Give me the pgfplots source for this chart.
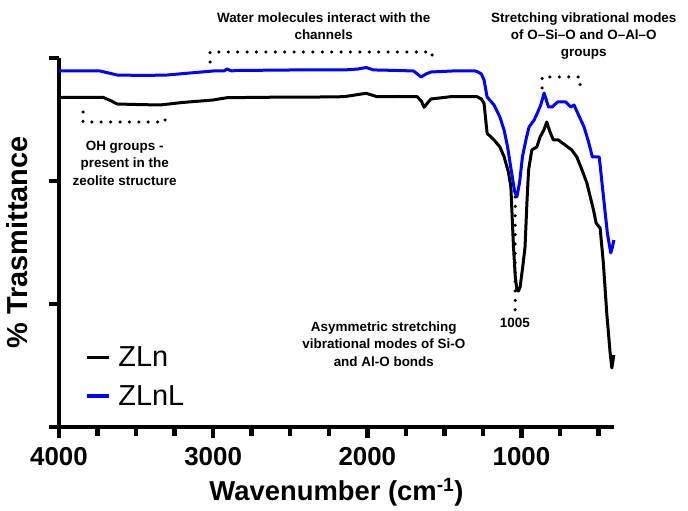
\documentclass[border=0pt]{standalone}
\usepackage{pgfplots}
\pgfplotsset{compat=1.18}
\usepackage{fontspec}
\setmainfont{Liberation Sans}
\pgfplotstableread{
w t
4000 329.7
3850 329.5
3715 329.7
3660 326
3624 323
3500 322.5
3345 322
3200 324.5
3001 327
2910 329.3
2600 329.8
2300 330
2151 330.3
2008 333.7
1937 330.3
1800 330.5
1677 330.3
1650 326
1632 319.7
1610 324
1587 328
1450 330.5
1288 330.3
1260 328
1243 323.7
1223 293.7
1178 287
1140 280
1113 270.3
1085 255
1069 240.3
1052 180.3
1040 150
1030 137
1020 136
1009 140
992 160
977 180
964 227
954 257
933 277
901 280
879 290
855 297
836 305
815 295
793 287
761 287
717 282
674 277
641 270
610 258
576 244
533 217
516 204
490 199
469 164
447 114
425 74
414 59
401 72
}\ZLn
\pgfplotstableread{
w t
4000 356
3850 356
3734 356
3650 353
3624 352
3450 351.5
3299 352
3150 354
3001 356
2930 356
2910 358
2880 356
2852 356.5
2500 357
2151 357
2060 358
2008 359.5
1960 357
1937 357
1800 356.5
1700 356
1651 350
1620 353
1587 355
1450 356
1300 356
1288 355.5
1260 353
1243 347
1223 330
1178 322
1140 310
1113 297
1090 280
1067 257
1045 236
1030 230
1012 245
994 270
970 288
951 300
918 307
897 314
875 322
853 334
825 320
800 320
767 325
713 325
680 320
659 322
630 312
594 300
565 285
540 270
496 270
490 262
475 240
443 194
421 174
410 180
401 187
}\ZLnL
\begin{document}
\begin{tikzpicture}
\begin{axis}[
  scale only axis, width=555bp, height=369bp,
  x dir=reverse, xmin=400, xmax=4000, ymin=0, ymax=369,
  axis x line*=bottom, axis y line*=left,
  axis line style={line width=4.5bp, black},
  clip=false,
  xtick={1000,2000,3000,4000},
  ytick={0,123,246,369}, yticklabels={},
  xtick pos=bottom, ytick pos=left,
  xtick align=outside, ytick align=outside,
  major tick length=10bp,
  tick style={line width=4.5bp, black},
  /pgf/number format/1000 sep={},
  /pgf/number format/assume math mode=true,
  xticklabel style={font=\bfseries\fontsize{26}{30}\selectfont, yshift=-7bp, fill=none},
  xlabel={Wavenumber (cm\textsuperscript{-1})},
  ylabel={\% Trasmittance},
  xlabel style={font=\bfseries\fontsize{27.5}{31}\selectfont, at={(axis description cs:0.5,-0.176)}, anchor=center},
  ylabel style={font=\bfseries\fontsize{29}{33}\selectfont, at={(axis description cs:-0.0757,0.5)}, anchor=center},
  legend style={draw=none, fill=none, at={(axis description cs:0.041,0.228)}, anchor=north west,
    font=\fontsize{29}{33}\selectfont, row sep=13bp, column sep=6bp},
  legend cell align=left,
  legend image code/.code={\draw[line width=3.5bp] (0bp,0bp) -- (22bp,0bp);},
]
\addplot[black, line width=3bp, line join=round] table[x=w,y=t] {\ZLn};
\addlegendentry{ZLn}
\addplot[blue, line width=3bp, line join=round] table[x=w,y=t] {\ZLnL};
\addlegendentry{ZLnL}

% x-axis tick marks, in data coordinates (1 y unit = 1bp)
\draw[line width=4.5bp, black] (axis cs:4000,0) -- (axis cs:4000,-11);
\draw[line width=4.5bp, black] (axis cs:3000,0) -- (axis cs:3000,-11);
\draw[line width=4.5bp, black] (axis cs:2000,0) -- (axis cs:2000,-11);
\draw[line width=4.5bp, black] (axis cs:1000,0) -- (axis cs:1000,-11);
\draw[line width=4.5bp, black] (axis cs:3750,0) -- (axis cs:3750,-8.5);
\draw[line width=4.5bp, black] (axis cs:3500,0) -- (axis cs:3500,-8.5);
\draw[line width=4.5bp, black] (axis cs:3250,0) -- (axis cs:3250,-8.5);
\draw[line width=4.5bp, black] (axis cs:2750,0) -- (axis cs:2750,-8.5);
\draw[line width=4.5bp, black] (axis cs:2500,0) -- (axis cs:2500,-8.5);
\draw[line width=4.5bp, black] (axis cs:2250,0) -- (axis cs:2250,-8.5);
\draw[line width=4.5bp, black] (axis cs:1750,0) -- (axis cs:1750,-8.5);
\draw[line width=4.5bp, black] (axis cs:1500,0) -- (axis cs:1500,-8.5);
\draw[line width=4.5bp, black] (axis cs:1250,0) -- (axis cs:1250,-8.5);
\draw[line width=4.5bp, black] (axis cs:750,0) -- (axis cs:750,-8.5);
\draw[line width=4.5bp, black] (axis cs:500,0) -- (axis cs:500,-8.5);

\tikzset{dotline/.style={line width=3.5bp, line cap=round, dash pattern=on 0bp off 9.4bp}}
\draw[dotline] (axis cs:3020,365) -- (axis cs:3020,375) -- (axis cs:1580,375) -- (axis cs:1580,370);
\draw[dotline] (axis cs:866,339) -- (axis cs:866,350) -- (axis cs:620,350) -- (axis cs:620,336);
\draw[dotline] (axis cs:3844,315) -- (axis cs:3844,305) -- (axis cs:3312,305) -- (axis cs:3312,314);
\draw[dotline] (axis cs:1041,230) -- (axis cs:1041,117);

\tikzset{ann/.style={font=\bfseries\fontsize{13.5}{17.5}\selectfont, align=center, anchor=center}}
\node[ann] at (axis cs:2283,401) {Water molecules interact with the\\channels};
\node[ann] at (axis cs:596,391) {Stretching vibrational modes\\of O--Si--O and O--Al--O\\groups};
\node[ann] at (axis cs:3574,264) {OH groups -\\present in the\\zeolite structure};
\node[ann] at (axis cs:1893,83) {Asymmetric stretching\\vibrational modes of Si-O\\and Al-O bonds};
\node[ann] at (axis cs:1043,104) {1005};
\end{axis}
\path ([xshift=-59bp,yshift=-84bp]current axis.south west) rectangle ([xshift=74bp,yshift=58bp]current axis.north east);
\end{tikzpicture}
\end{document}
